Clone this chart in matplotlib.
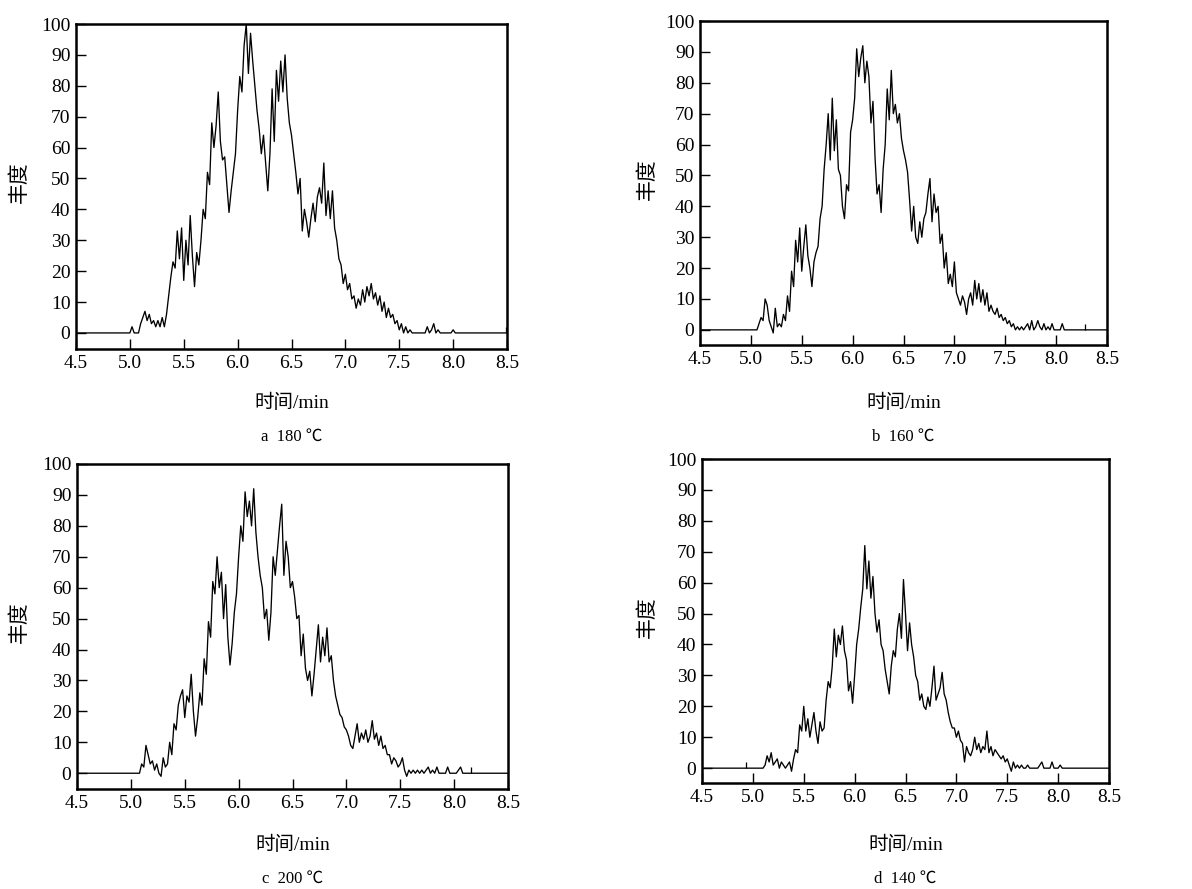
import matplotlib
matplotlib.use("Agg")
import matplotlib.pyplot as plt
import numpy as np

plt.rcParams['font.family'] = ['Liberation Serif', 'Noto Sans CJK SC', 'DejaVu Sans']

# sampling: every 0.02 min starting at 5.00 min, baseline is 0 outside
t_start = 5.00
t_step = 0.02

# a 180 ℃
abund_180 = [
    0, 2, 0, 0, 0, 3, 5, 7, 4, 6,
    3, 4, 2, 4, 2, 5, 2, 6, 12, 18,
    23, 21, 33, 24, 34, 17, 30, 22, 38, 25,
    15, 26, 22, 30, 40, 37, 52, 48, 68, 60,
    67, 78, 62, 56, 57, 48, 39, 46, 52, 58,
    72, 83, 78, 93, 100, 84, 97, 88, 80, 72,
    66, 58, 64, 55, 46, 58, 79, 62, 85, 75,
    88, 78, 90, 76, 68, 64, 58, 52, 45, 50,
    33, 40, 36, 31, 37, 42, 36, 44, 47, 42,
    55, 38, 46, 37, 46, 34, 30, 24, 22, 16,
    19, 14, 16, 11, 12, 8, 11, 9, 14, 10,
    15, 12, 16, 11, 13, 9, 12, 7, 10, 5,
    8, 5, 6, 3, 4, 1, 3, 0, 2, 0,
    1, 0, 0, 0, 0, 0, 0, 0, 2, 0,
    1, 3, 0, 1, 0, 0, 0, 0, 0, 0,
    1, 0, 0, 0, 0,
]

# b 160 ℃
abund_160 = [
    0, 0, 0, 0, 2, 4, 3, 10, 8, 3,
    1, -1, 7, 1, 2, 1, 5, 3, 11, 6,
    19, 14, 29, 22, 33, 19, 27, 34, 24, 20,
    14, 22, 25, 27, 36, 40, 52, 60, 70, 55,
    75, 58, 68, 52, 50, 40, 36, 47, 45, 64,
    68, 75, 91, 82, 88, 92, 80, 87, 82, 67,
    74, 56, 44, 47, 38, 52, 60, 78, 68, 84,
    70, 73, 67, 70, 62, 58, 55, 51, 42, 32,
    40, 30, 28, 35, 30, 36, 38, 44, 49, 35,
    44, 38, 40, 28, 31, 20, 25, 15, 18, 14,
    22, 12, 10, 8, 11, 9, 5, 10, 12, 8,
    16, 10, 15, 9, 13, 8, 12, 6, 8, 6,
    5, 7, 4, 5, 3, 4, 2, 3, 1, 2,
    0, 1, 0, 1, 0, 1, 2, 0, 3, 0,
    1, 3, 1, 0, 2, 0, 1, 0, 2, 0,
    0, 0, 0, 2, 0,
]

# c 200 ℃
abund_200 = [
    0, 0, 0, 0, 0, 3, 2, 9, 6, 3,
    4, 1, 3, 0, -1, 5, 2, 3, 10, 6,
    16, 14, 22, 25, 27, 18, 25, 23, 32, 20,
    12, 18, 26, 22, 37, 32, 49, 44, 62, 58,
    70, 60, 65, 50, 61, 44, 35, 42, 52, 58,
    70, 80, 75, 91, 83, 88, 80, 92, 78, 70,
    64, 60, 50, 53, 43, 52, 70, 64, 72, 80,
    87, 64, 75, 70, 60, 62, 57, 50, 51, 38,
    45, 34, 30, 33, 25, 32, 40, 48, 36, 44,
    38, 47, 36, 38, 30, 25, 22, 19, 18, 15,
    14, 12, 9, 8, 12, 16, 10, 13, 11, 14,
    10, 12, 17, 11, 13, 9, 12, 8, 9, 6,
    6, 3, 5, 4, 2, 3, 5, 1, -1, 1,
    0, 1, 0, 1, 0, 1, 0, 1, 2, 0,
    1, 0, 2, 0, 0, 0, 0, 2, 0, 0,
    0, 0, 1, 2, 0,
]

# d 140 ℃
abund_140 = [
    0, 0, 0, 0, 0, 0, 1, 4, 2, 5,
    1, 2, 3, 0, 2, 1, 0, 1, 2, -1,
    3, 6, 5, 14, 12, 20, 12, 16, 10, 14,
    18, 12, 8, 15, 12, 13, 22, 28, 26, 33,
    45, 36, 43, 40, 46, 38, 35, 25, 28, 21,
    30, 40, 45, 52, 58, 72, 58, 67, 55, 62,
    50, 44, 48, 40, 38, 32, 28, 24, 33, 38,
    36, 45, 50, 42, 61, 50, 38, 47, 40, 36,
    30, 28, 22, 24, 20, 19, 23, 20, 26, 33,
    22, 24, 26, 31, 24, 22, 18, 15, 13, 13,
    10, 12, 9, 8, 2, 7, 5, 4, 6, 10,
    6, 8, 5, 7, 6, 12, 5, 7, 4, 6,
    5, 4, 3, 4, 2, 3, 1, -1, 2, 0,
    1, 0, 1, 0, 0, 1, 0, 0, 0, 0,
    0, 1, 2, 0, 0, 0, 0, 2, 0, 0,
    0, 1, 0, 0, 0,
]

# lone spikes on the baseline
spike_t = {'a': [8.49], 'b': [8.28], 'c': [8.16], 'd': [4.93]}
spike_h = {'a': [2], 'b': [2], 'c': [2], 'd': [2]}

captions = {'a': 'a  180 ℃', 'b': 'b  160 ℃', 'c': 'c  200 ℃', 'd': 'd  140 ℃'}
series = {'a': abund_180, 'b': abund_160, 'c': abund_200, 'd': abund_140}

xticks = [4.5, 5.0, 5.5, 6.0, 6.5, 7.0, 7.5, 8.0, 8.5]
yticks = [0, 10, 20, 30, 40, 50, 60, 70, 80, 90, 100]

W, H = 1192, 889
fig = plt.figure(figsize=(W / 100, H / 100), dpi=100)

# panel boxes in pixels: left, top, right, bottom, ymin
boxes = {
    'a': (76, 24, 507, 349, -5.2),
    'b': (700, 21, 1107, 345, -4.9),
    'c': (77, 464, 508, 789, -5.1),
    'd': (702, 459, 1109, 783, -4.8),
}
label_pos = {  # ylabel x, xlabel y, caption y
    'a': (20, 403, 437),
    'b': (648, 403, 437),
    'c': (20, 845, 879),
    'd': (648, 845, 879),
}

for key in ['a', 'b', 'c', 'd']:
    l, t, r, b, ymin = boxes[key]
    ax = fig.add_axes([l / W, 1 - b / H, (r - l) / W, (b - t) / H])
    vals = series[key]
    tt = t_start + t_step * np.arange(len(vals))
    x = np.concatenate([[4.5], tt, [8.5]])
    y = np.concatenate([[0], vals, [0]])
    ax.plot(x, y, color='black', linewidth=0.95)
    ax.vlines(spike_t[key], 0, spike_h[key], color='black', linewidth=0.9)

    ax.set_xlim(4.5, 8.5)
    ax.set_ylim(ymin, 100)
    ax.set_xticks(xticks)
    ax.set_xticklabels([f'{v:.1f}' for v in xticks])
    ax.set_yticks(yticks)
    ax.tick_params(direction='in', length=7, width=1, labelsize=14, pad=4)
    for s in ax.spines.values():
        s.set_linewidth(1.8)

    cx = (l + r) / 2 / W
    yl_x, xl_y, cap_y = label_pos[key]
    fig.text(yl_x / W, 1 - ((t + b) / 2 - 4) / H, '丰度', rotation=90,
             ha='center', va='center', fontsize=15)
    fig.text(cx, 1 - xl_y / H, '时间/min', ha='center', va='center', fontsize=14)
    fig.text(cx, 1 - cap_y / H, captions[key], ha='center', va='center', fontsize=12)

fig.savefig('out.png', dpi=100)
